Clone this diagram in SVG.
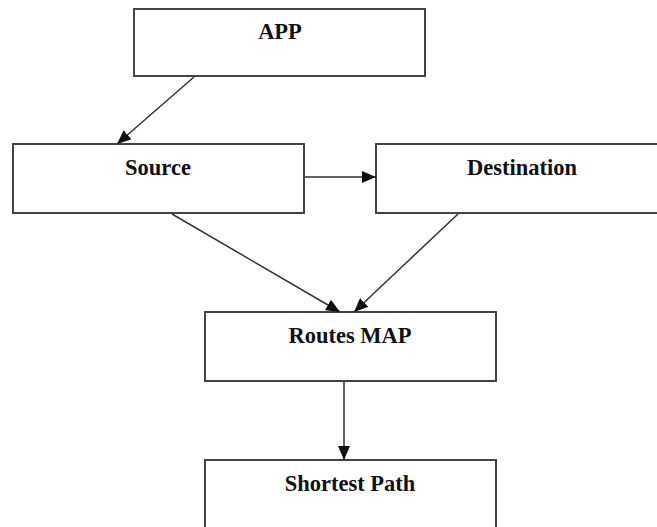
<svg xmlns="http://www.w3.org/2000/svg" width="657" height="527" viewBox="0 0 657 527">
<style>
.box{fill:#fff;stroke:#444;stroke-width:2}
.lbl{font-family:"Liberation Serif","Times New Roman",serif;font-weight:bold;font-size:22.5px;fill:#111;text-anchor:middle}
.edge{stroke:#333;stroke-width:1.5;fill:none;marker-end:url(#ah)}
</style>
<defs>
<marker id="ah" viewBox="0 0 14 12" refX="14" refY="6" markerWidth="14" markerHeight="12" markerUnits="userSpaceOnUse" orient="auto">
<path d="M0,0 L14,6 L0,12 Z" fill="#111"/>
</marker>
</defs>
<rect width="657" height="527" fill="#fff"/>
<g id="app"><rect class="box" x="134" y="9" width="291" height="67"/><text class="lbl" x="280" y="39">APP</text></g>
<g id="source"><rect class="box" x="13" y="144" width="291" height="69"/><text class="lbl" x="158" y="175">Source</text></g>
<g id="destination"><rect class="box" x="376" y="144" width="292" height="69"/><text class="lbl" x="522" y="175">Destination</text></g>
<g id="routes"><rect class="box" x="205" y="312" width="291" height="69"/><text class="lbl" x="350" y="343">Routes MAP</text></g>
<g id="shortest"><rect class="box" x="205" y="460" width="291" height="80"/><text class="lbl" x="350" y="491">Shortest Path</text></g>
<g id="connectors">
<line class="edge" x1="194" y1="77" x2="117" y2="144"/>
<line class="edge" x1="305" y1="177" x2="376" y2="177"/>
<line class="edge" x1="172" y1="214" x2="340" y2="312"/>
<line class="edge" x1="458" y1="214" x2="354" y2="312"/>
<line class="edge" x1="344" y1="382" x2="344" y2="460"/>
</g>
</svg>
